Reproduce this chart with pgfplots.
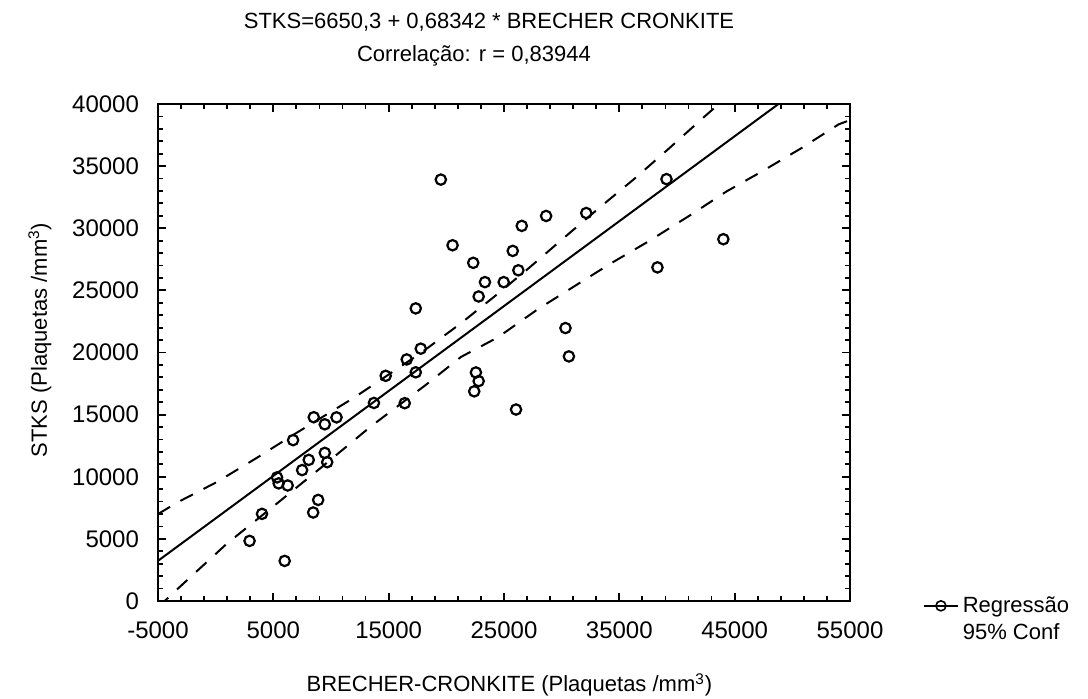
\documentclass[border=0pt]{standalone}
\usepackage{fontspec}
\setmainfont{Liberation Sans}
\usepackage{pgfplots}
\pgfplotsset{compat=1.18}

\pgfplotstableread{
x y
19523 33915
20540 28631
22332 27216
23349 25663
24975 25662
25758 28176
26540 30191
26245 26617
28654 30989
32132 31224
39089 33953
44019 29116
38306 26850
22802 24508
17349 23549
17784 20309
16566 19441
17349 18405
14740 18122
22566 18393
22802 17698
22419 16874
30332 21966
30627 19685
26045 15410
13723 15939
16392 15920
8505 14790
9462 14220
10479 14778
6714 12946
9462 11920
8070 11357
9670 11172
7496 10535
5322 9949
5461 9467
6244 9296
8888 8135
8453 7122
4018 7013
2939 4836
5983 3226
}\pts

\begin{document}
\begin{tikzpicture}
\useasboundingbox (-79pt,-49pt) rectangle (465pt,300.5pt);
\begin{axis}[
  at={(0,0)}, anchor=south west,
  scale only axis, width=346pt, height=248.5pt,
  xmin=-5000, xmax=55000, ymin=0, ymax=40000,
  xtick={-5000,5000,...,55000}, ytick={0,5000,...,40000},
  minor x tick num=4, minor y tick num=4,
  tick align=inside, major tick length=4pt, minor tick length=2.5pt,
  axis line style={line width=1.4pt},
  every tick/.style={black, line width=0.9pt},
  scaled ticks=false,
  /pgf/number format/assume math mode=true,
  /pgf/number format/set thousands separator={},
  tick label style={font=\fontsize{12}{14}\selectfont},
  yticklabel style={xshift=-6pt},
  xticklabel style={yshift=-7pt},
  legend cell align=left,
  legend style={draw=none, fill=none, at={(1.105,0.018)}, anchor=north west,
    font=\fontsize{11}{13}\selectfont, row sep=0pt, inner sep=0pt},
]
\addlegendimage{black, line width=0.8pt, mark=o, mark size=2.5pt}
\addlegendimage{draw opacity=0}
\addplot[black, line width=1pt, forget plot] coordinates {(-5000,3233) (55000,44238)};
\addplot[black, line width=1pt, dash pattern=on 7pt off 6pt, forget plot] coordinates {
(-5000,7000) (-3261,7962) (105,9574) (3583,11529) (6740,13374) (11983,16355)
(17784,19955) (21262,22349) (24306,24606) (27062,26721) (30541,29500)
(33436,31780) (36332,34000) (39236,36364) (42280,38900) (44000,40300)};
\addplot[black, line width=1pt, dash pattern=on 7pt off 6pt, forget plot] coordinates {
(-5000,-500) (-3374,910) (-1930,2144) (974,4616) (5609,8069) (9088,10696)
(13436,14036) (18218,17390) (21262,19638) (24454,21210) (27932,23482)
(31115,25339) (34306,27193) (37498,28924) (40976,30950) (44306,32967)
(47350,34564) (50828,36469) (54020,38365) (55000,38700)};
\addplot[only marks, mark=o, mark size=2.6pt, line width=1.1pt, black, forget plot] table[x=x,y=y] {\pts};
\legend{Regressão, 95\% Conf}
\end{axis}
\node[anchor=base, font=\fontsize{11}{13}\selectfont] at (165.5pt,286pt) {STKS=6650,3 + 0,68342 * BRECHER CRONKITE};
\node[anchor=base, font=\fontsize{11}{13}\selectfont] at (158pt,269.5pt) {Correlação: r = 0,83944};
\node[anchor=base, font=\fontsize{11}{13}\selectfont] at (175.75pt,-45.5pt) {BRECHER-CRONKITE (Plaquetas /mm\textsuperscript{3})};
\node[anchor=base, rotate=90, font=\fontsize{11}{13}\selectfont] at (-55.5pt,130.5pt) {STKS (Plaquetas /mm\textsuperscript{3})};
\end{tikzpicture}
\end{document}
